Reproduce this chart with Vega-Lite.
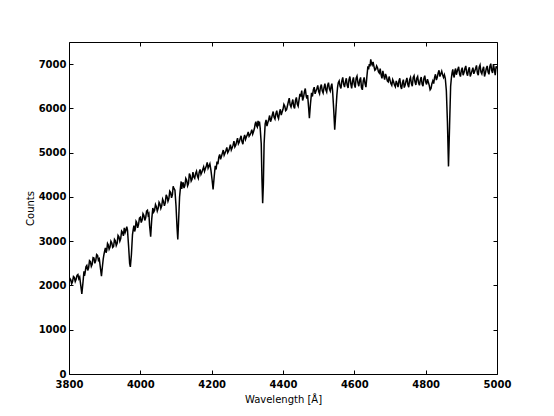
{
  "$schema": "https://vega.github.io/schema/vega-lite/v6.json",
  "width": 428,
  "height": 332,
  "autosize": {"type": "none"},
  "padding": {"left": 69, "top": 42, "right": 57, "bottom": 42},
  "background": "white",
  "config": {
    "view": {"stroke": "black", "strokeWidth": 1},
    "axis": {
      "grid": false,
      "domain": false,
      "tickColor": "black",
      "tickSize": -4,
      "labelFlush": false,
      "labelFont": "DejaVu Sans",
      "labelFontSize": 10,
      "labelFontWeight": "bold",
      "labelColor": "black",
      "titleFont": "DejaVu Sans",
      "titleFontSize": 10,
      "titleFontWeight": "normal",
      "titleColor": "black"
    }
  },
  "data": {"values": [
    {"w":3800,"c":2050},{"w":3802.5,"c":2160},{"w":3805,"c":2130},{"w":3807.5,"c":2040},{"w":3810,"c":2090},{"w":3812.5,"c":2200},{"w":3815,"c":2180},{"w":3817.5,"c":2090},{"w":3820,"c":2140},{"w":3822.5,"c":2230},{"w":3825,"c":2250},{"w":3827.5,"c":2150},{"w":3830,"c":2190},{"w":3833,"c":2000},{"w":3836,"c":1810},{"w":3839,"c":2050},{"w":3842,"c":2320},{"w":3843.5,"c":2220},{"w":3845,"c":2280},{"w":3847.5,"c":2420},{"w":3850,"c":2450},{"w":3852.5,"c":2340},{"w":3855,"c":2400},{"w":3857.5,"c":2560},{"w":3860,"c":2540},{"w":3862.5,"c":2430},{"w":3865,"c":2480},{"w":3867.5,"c":2630},{"w":3870,"c":2620},{"w":3872.5,"c":2500},{"w":3875,"c":2560},{"w":3877.5,"c":2700},{"w":3880,"c":2680},{"w":3882.5,"c":2570},{"w":3885,"c":2600},{"w":3888,"c":2400},{"w":3891,"c":2210},{"w":3894,"c":2450},{"w":3896,"c":2600},{"w":3898,"c":2700},
    {"w":3900,"c":2780},{"w":3902,"c":2850},{"w":3904,"c":2740},{"w":3906,"c":2800},{"w":3908,"c":2950},{"w":3910,"c":2920},{"w":3912.5,"c":2820},{"w":3915,"c":2870},{"w":3917.5,"c":3000},{"w":3920,"c":2960},{"w":3922.5,"c":2860},{"w":3925,"c":2880},{"w":3927.5,"c":3040},{"w":3930,"c":3010},{"w":3932.5,"c":2900},{"w":3935,"c":2950},{"w":3937.5,"c":3130},{"w":3940,"c":3100},{"w":3942.5,"c":3000},{"w":3945,"c":3060},{"w":3947.5,"c":3230},{"w":3950,"c":3200},{"w":3952.5,"c":3120},{"w":3955,"c":3300},{"w":3957.5,"c":3200},{"w":3960,"c":3260},{"w":3962,"c":3330},{"w":3964,"c":3250},{"w":3967,"c":2900},{"w":3970,"c":2500},{"w":3972,"c":2420},{"w":3975,"c":2700},{"w":3978,"c":3150},{"w":3980,"c":3260},{"w":3982,"c":3350},{"w":3984,"c":3220},{"w":3986,"c":3280},{"w":3988,"c":3450},{"w":3990,"c":3420},{"w":3992.5,"c":3300},{"w":3995,"c":3380},{"w":3997.5,"c":3520},
    {"w":4000,"c":3540},{"w":4002.5,"c":3420},{"w":4005,"c":3480},{"w":4007.5,"c":3620},{"w":4010,"c":3580},{"w":4012.5,"c":3470},{"w":4015,"c":3530},{"w":4017.5,"c":3680},{"w":4020,"c":3700},{"w":4022,"c":3590},{"w":4024,"c":3620},{"w":4026,"c":3350},{"w":4029,"c":3100},{"w":4032,"c":3500},{"w":4035,"c":3750},{"w":4037.5,"c":3660},{"w":4040,"c":3700},{"w":4042.5,"c":3830},{"w":4045,"c":3780},{"w":4047.5,"c":3680},{"w":4050,"c":3740},{"w":4052.5,"c":3880},{"w":4055,"c":3840},{"w":4057.5,"c":3740},{"w":4060,"c":3800},{"w":4062.5,"c":3950},{"w":4065,"c":3900},{"w":4067.5,"c":3800},{"w":4070,"c":3870},{"w":4072.5,"c":4050},{"w":4075,"c":4000},{"w":4077.5,"c":3900},{"w":4080,"c":3960},{"w":4082.5,"c":4130},{"w":4085,"c":4100},{"w":4087.5,"c":3980},{"w":4090,"c":4050},{"w":4092,"c":4240},{"w":4094,"c":4200},{"w":4097,"c":4150},
    {"w":4100,"c":3800},{"w":4103,"c":3300},{"w":4105,"c":3040},{"w":4107,"c":3400},{"w":4110,"c":4000},{"w":4113,"c":4250},{"w":4114.5,"c":4350},{"w":4116,"c":4180},{"w":4118,"c":4280},{"w":4120,"c":4330},{"w":4122.5,"c":4200},{"w":4125,"c":4260},{"w":4127.5,"c":4420},{"w":4130,"c":4380},{"w":4132.5,"c":4250},{"w":4135,"c":4300},{"w":4137.5,"c":4530},{"w":4140,"c":4480},{"w":4142.5,"c":4360},{"w":4145,"c":4400},{"w":4147.5,"c":4560},{"w":4150,"c":4450},{"w":4152.5,"c":4420},{"w":4155,"c":4530},{"w":4157.5,"c":4580},{"w":4160,"c":4470},{"w":4162.5,"c":4420},{"w":4165,"c":4560},{"w":4167.5,"c":4620},{"w":4170,"c":4510},{"w":4172.5,"c":4560},{"w":4175,"c":4620},{"w":4177.5,"c":4680},{"w":4180,"c":4580},{"w":4182.5,"c":4640},{"w":4185,"c":4700},{"w":4187.5,"c":4780},{"w":4190,"c":4650},{"w":4192.5,"c":4700},{"w":4195,"c":4750},{"w":4198,"c":4600},
    {"w":4201,"c":4400},{"w":4204,"c":4170},{"w":4207,"c":4450},{"w":4210,"c":4700},{"w":4212.5,"c":4620},{"w":4215,"c":4800},{"w":4217.5,"c":4740},{"w":4220,"c":4900},{"w":4222.5,"c":4960},{"w":4225,"c":4850},{"w":4227.5,"c":4920},{"w":4230,"c":4990},{"w":4232.5,"c":5060},{"w":4235,"c":4940},{"w":4237.5,"c":4990},{"w":4240,"c":5050},{"w":4242.5,"c":5120},{"w":4245,"c":5000},{"w":4247.5,"c":5040},{"w":4250,"c":5100},{"w":4252.5,"c":5180},{"w":4255,"c":5060},{"w":4257.5,"c":5110},{"w":4260,"c":5170},{"w":4262.5,"c":5260},{"w":4265,"c":5130},{"w":4267.5,"c":5170},{"w":4270,"c":5250},{"w":4272.5,"c":5330},{"w":4275,"c":5200},{"w":4277.5,"c":5240},{"w":4280,"c":5320},{"w":4282.5,"c":5380},{"w":4285,"c":5250},{"w":4287.5,"c":5190},{"w":4290,"c":5330},{"w":4292.5,"c":5400},{"w":4295,"c":5300},{"w":4297.5,"c":5360},
    {"w":4300,"c":5400},{"w":4302.5,"c":5470},{"w":4305,"c":5370},{"w":4307.5,"c":5400},{"w":4310,"c":5450},{"w":4312.5,"c":5520},{"w":4315,"c":5420},{"w":4317.5,"c":5480},{"w":4320,"c":5550},{"w":4322,"c":5650},{"w":4324,"c":5700},{"w":4326,"c":5610},{"w":4328,"c":5580},{"w":4330,"c":5720},{"w":4332,"c":5650},{"w":4334,"c":5700},{"w":4336,"c":5560},{"w":4339,"c":5200},{"w":4341,"c":4400},{"w":4343,"c":3860},{"w":4345,"c":4300},{"w":4347,"c":5200},{"w":4350,"c":5650},{"w":4352.5,"c":5740},{"w":4355,"c":5600},{"w":4357.5,"c":5680},{"w":4360,"c":5750},{"w":4362.5,"c":5840},{"w":4365,"c":5700},{"w":4367.5,"c":5760},{"w":4370,"c":5850},{"w":4372.5,"c":5930},{"w":4375,"c":5800},{"w":4377.5,"c":5760},{"w":4380,"c":5880},{"w":4382.5,"c":5950},{"w":4385,"c":5820},{"w":4387.5,"c":5770},{"w":4390,"c":5900},{"w":4392.5,"c":5980},{"w":4395,"c":5850},{"w":4397.5,"c":5920},
    {"w":4400,"c":5980},{"w":4402.5,"c":6090},{"w":4405,"c":6050},{"w":4407.5,"c":5950},{"w":4410,"c":5970},{"w":4412.5,"c":6060},{"w":4415,"c":6150},{"w":4417.5,"c":6230},{"w":4420,"c":6080},{"w":4422.5,"c":6030},{"w":4425,"c":6120},{"w":4427.5,"c":6200},{"w":4430,"c":6050},{"w":4432.5,"c":6000},{"w":4435,"c":6180},{"w":4437.5,"c":6250},{"w":4440,"c":6100},{"w":4442.5,"c":6050},{"w":4445,"c":6200},{"w":4447.5,"c":6330},{"w":4450,"c":6270},{"w":4452.5,"c":6400},{"w":4455,"c":6180},{"w":4457.5,"c":6250},{"w":4460,"c":6370},{"w":4462.5,"c":6450},{"w":4465,"c":6280},{"w":4467,"c":6220},{"w":4469,"c":6300},{"w":4472,"c":6000},{"w":4474,"c":5780},{"w":4477,"c":6100},{"w":4480,"c":6350},{"w":4482.5,"c":6270},{"w":4485,"c":6420},{"w":4487.5,"c":6480},{"w":4490,"c":6330},{"w":4492.5,"c":6390},{"w":4495,"c":6450},{"w":4497.5,"c":6520},
    {"w":4500,"c":6380},{"w":4502.5,"c":6330},{"w":4505,"c":6480},{"w":4507.5,"c":6540},{"w":4510,"c":6400},{"w":4512.5,"c":6350},{"w":4515,"c":6470},{"w":4517.5,"c":6560},{"w":4520,"c":6420},{"w":4522.5,"c":6370},{"w":4525,"c":6520},{"w":4527.5,"c":6580},{"w":4530,"c":6440},{"w":4532.5,"c":6390},{"w":4535,"c":6500},{"w":4537,"c":6560},{"w":4539,"c":6400},{"w":4542,"c":6000},{"w":4545,"c":5520},{"w":4548,"c":5900},{"w":4551,"c":6300},{"w":4553,"c":6480},{"w":4555,"c":6580},{"w":4557.5,"c":6620},{"w":4560,"c":6500},{"w":4562.5,"c":6450},{"w":4565,"c":6620},{"w":4567.5,"c":6700},{"w":4570,"c":6550},{"w":4572.5,"c":6480},{"w":4575,"c":6600},{"w":4577.5,"c":6680},{"w":4580,"c":6520},{"w":4582.5,"c":6460},{"w":4585,"c":6650},{"w":4587.5,"c":6720},{"w":4590,"c":6560},{"w":4592.5,"c":6450},{"w":4595,"c":6620},{"w":4597.5,"c":6700},
    {"w":4600,"c":6540},{"w":4602.5,"c":6470},{"w":4605,"c":6680},{"w":4607.5,"c":6730},{"w":4610,"c":6580},{"w":4612.5,"c":6500},{"w":4615,"c":6640},{"w":4617.5,"c":6700},{"w":4620,"c":6470},{"w":4622.5,"c":6420},{"w":4625,"c":6620},{"w":4627.5,"c":6700},{"w":4630,"c":6560},{"w":4632.5,"c":6480},{"w":4635,"c":6700},{"w":4638,"c":6950},{"w":4640,"c":6880},{"w":4642,"c":7000},{"w":4644,"c":6950},{"w":4646,"c":7110},{"w":4648,"c":7020},{"w":4650,"c":6980},{"w":4652.5,"c":7050},{"w":4655,"c":6950},{"w":4657.5,"c":6860},{"w":4660,"c":6880},{"w":4662.5,"c":6960},{"w":4665,"c":6920},{"w":4667.5,"c":6830},{"w":4670,"c":6800},{"w":4672.5,"c":6900},{"w":4675,"c":6760},{"w":4677.5,"c":6680},{"w":4680,"c":6850},{"w":4682.5,"c":6740},{"w":4685,"c":6650},{"w":4687.5,"c":6780},{"w":4690,"c":6720},{"w":4692.5,"c":6620},{"w":4695,"c":6600},{"w":4697.5,"c":6720},
    {"w":4700,"c":6640},{"w":4702.5,"c":6560},{"w":4705,"c":6520},{"w":4707.5,"c":6650},{"w":4710,"c":6600},{"w":4712.5,"c":6530},{"w":4715,"c":6490},{"w":4717.5,"c":6620},{"w":4720,"c":6560},{"w":4722.5,"c":6480},{"w":4725,"c":6620},{"w":4727.5,"c":6680},{"w":4730,"c":6500},{"w":4732.5,"c":6440},{"w":4735,"c":6580},{"w":4737.5,"c":6650},{"w":4740,"c":6470},{"w":4742.5,"c":6530},{"w":4745,"c":6620},{"w":4747.5,"c":6690},{"w":4750,"c":6540},{"w":4752.5,"c":6480},{"w":4755,"c":6650},{"w":4757.5,"c":6700},{"w":4760,"c":6560},{"w":4762.5,"c":6500},{"w":4765,"c":6700},{"w":4767.5,"c":6740},{"w":4770,"c":6600},{"w":4772.5,"c":6530},{"w":4775,"c":6680},{"w":4777.5,"c":6720},{"w":4780,"c":6580},{"w":4782.5,"c":6520},{"w":4785,"c":6640},{"w":4787.5,"c":6710},{"w":4790,"c":6550},{"w":4792.5,"c":6500},{"w":4795,"c":6680},{"w":4797.5,"c":6740},
    {"w":4800,"c":6600},{"w":4802.5,"c":6540},{"w":4805,"c":6660},{"w":4807.5,"c":6590},{"w":4810,"c":6520},{"w":4812.5,"c":6420},{"w":4815,"c":6450},{"w":4817.5,"c":6560},{"w":4820,"c":6620},{"w":4822.5,"c":6560},{"w":4825,"c":6700},{"w":4827.5,"c":6770},{"w":4830,"c":6640},{"w":4832.5,"c":6700},{"w":4835,"c":6800},{"w":4837.5,"c":6860},{"w":4840,"c":6720},{"w":4842.5,"c":6780},{"w":4845,"c":6840},{"w":4847.5,"c":6760},{"w":4850,"c":6700},{"w":4852.5,"c":6760},{"w":4855,"c":6680},{"w":4858,"c":6400},{"w":4861,"c":5700},{"w":4864,"c":4690},{"w":4867,"c":5600},{"w":4870,"c":6500},{"w":4872,"c":6680},{"w":4874,"c":6800},{"w":4876,"c":6880},{"w":4878,"c":6750},{"w":4880,"c":6700},{"w":4882,"c":6850},{"w":4884,"c":6900},{"w":4886,"c":6760},{"w":4888,"c":6820},{"w":4890,"c":6880},{"w":4892.5,"c":6940},{"w":4895,"c":6780},{"w":4897.5,"c":6720},
    {"w":4900,"c":6860},{"w":4902.5,"c":6920},{"w":4905,"c":6750},{"w":4907.5,"c":6810},{"w":4910,"c":6900},{"w":4912.5,"c":6960},{"w":4915,"c":6800},{"w":4917.5,"c":6740},{"w":4920,"c":6870},{"w":4922.5,"c":6930},{"w":4925,"c":6720},{"w":4927.5,"c":6780},{"w":4930,"c":6850},{"w":4932.5,"c":6920},{"w":4935,"c":6780},{"w":4937.5,"c":6840},{"w":4940,"c":6900},{"w":4942.5,"c":6970},{"w":4945,"c":6800},{"w":4947.5,"c":6750},{"w":4950,"c":6930},{"w":4952.5,"c":6980},{"w":4955,"c":6820},{"w":4957.5,"c":6780},{"w":4960,"c":6880},{"w":4962.5,"c":6940},{"w":4965,"c":6720},{"w":4967.5,"c":6800},{"w":4970,"c":6900},{"w":4972.5,"c":6960},{"w":4975,"c":6820},{"w":4977.5,"c":6770},{"w":4980,"c":6950},{"w":4982.5,"c":7010},{"w":4985,"c":6860},{"w":4987.5,"c":6800},{"w":4990,"c":7000},{"w":4992.5,"c":6880},{"w":4995,"c":6750},{"w":4997.5,"c":6950},{"w":5000,"c":6900}
  ]},
  "layer": [
    {
      "mark": {"type": "line", "color": "black", "strokeWidth": 1.5, "clip": true},
      "encoding": {
        "x": {"field": "w", "type": "quantitative", "scale": {"domain": [3800, 5000], "nice": false, "zero": false},
              "axis": {"orient": "bottom", "title": "Wavelength [Å]", "values": [3800,4000,4200,4400,4600,4800,5000], "format": "d", "labelPadding": 9, "titlePadding": 5}},
        "y": {"field": "c", "type": "quantitative", "scale": {"domain": [0, 7500], "nice": false},
              "axis": {"orient": "left", "title": "Counts", "values": [0,1000,2000,3000,4000,5000,6000,7000], "format": "d", "labelPadding": 7, "titlePadding": 3}}
      }
    },
    {
      "mark": {"type": "line", "color": "black", "strokeWidth": 1.5, "clip": true, "opacity": 0},
      "encoding": {
        "x": {"field": "w", "type": "quantitative", "scale": {"domain": [3800, 5000], "nice": false, "zero": false},
              "axis": {"orient": "top", "title": null, "labels": false, "values": [3800,4000,4200,4400,4600,4800,5000]}},
        "y": {"field": "c", "type": "quantitative", "scale": {"domain": [0, 7500], "nice": false},
              "axis": {"orient": "right", "title": null, "labels": false, "values": [0,1000,2000,3000,4000,5000,6000,7000]}}
      }
    }
  ],
  "resolve": {"axis": {"x": "independent", "y": "independent"}}
}
